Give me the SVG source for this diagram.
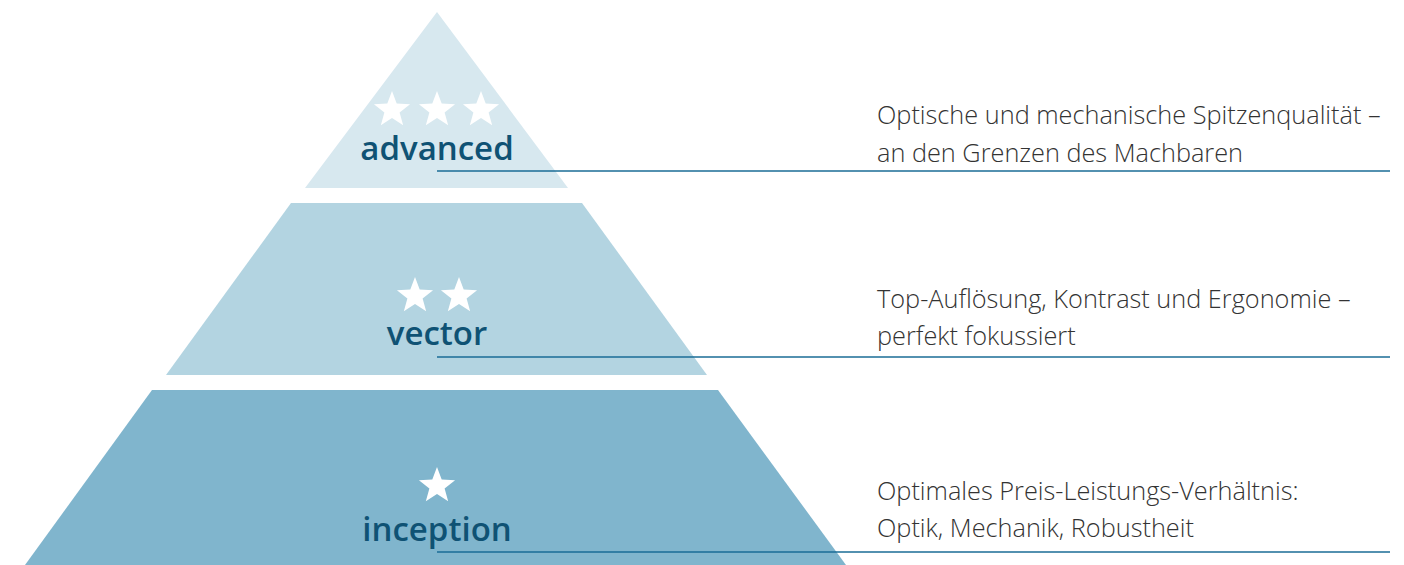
<svg xmlns="http://www.w3.org/2000/svg" xmlns:xlink="http://www.w3.org/1999/xlink" width="1404" height="565" viewBox="0 0 1404 565">
<style>
.lbl{font-family:"Open Sans","Liberation Sans",sans-serif;font-weight:600;font-size:33px;fill:#0f5274;text-anchor:middle}
.desc{font-family:"Open Sans","Liberation Sans",sans-serif;font-weight:300;font-size:25.3px;fill:#333333}
.rule{stroke:#1a6d96;stroke-width:1.5;fill:none}
.star{fill:#ffffff}
</style>
<defs>
<path id="star" d="M0,-19 L4.70,-6.47 L18.07,-5.87 L7.61,2.47 L11.17,15.37 L0,8 L-11.17,15.37 L-7.61,2.47 L-18.07,-5.87 L-4.70,-6.47 Z"/>
</defs>
<rect width="1404" height="565" fill="#ffffff"/>
<g id="advanced">
<polygon points="437,12 568,188 305,188" fill="#d7e8ef"/>
<use xlink:href="#star" href="#star" class="star" x="392" y="110"/>
<use xlink:href="#star" href="#star" class="star" x="437" y="110"/>
<use xlink:href="#star" href="#star" class="star" x="481" y="110"/>
<text class="lbl" x="437" y="160">advanced</text>
<text class="desc" x="877" y="124">Optische und mechanische Spitzenqualität –</text>
<text class="desc" x="877" y="162">an den Grenzen des Machbaren</text>
</g>
<g id="vector">
<polygon points="291,203 582,203 707,375 166,375" fill="#b3d4e1"/>
<use xlink:href="#star" href="#star" class="star" x="415" y="296"/>
<use xlink:href="#star" href="#star" class="star" x="459" y="296"/>
<text class="lbl" x="437" y="345">vector</text>
<text class="desc" x="877" y="308">Top-Auflösung, Kontrast und Ergonomie –</text>
<text class="desc" x="877" y="345">perfekt fokussiert</text>
</g>
<g id="inception">
<polygon points="152,390 718,390 846,565 25,565" fill="#80b5cd"/>
<use xlink:href="#star" href="#star" class="star" x="437" y="486"/>
<text class="lbl" x="437" y="541">inception</text>
<text class="desc" x="877" y="500">Optimales Preis-Leistungs-Verhältnis:</text>
<text class="desc" x="877" y="537">Optik, Mechanik, Robustheit</text>
</g>
<g id="connectors">
<line class="rule" x1="437" y1="171" x2="1390" y2="171"/>
<line class="rule" x1="437" y1="357" x2="1390" y2="357"/>
<line class="rule" x1="437" y1="552" x2="1390" y2="552"/>
</g>
</svg>
